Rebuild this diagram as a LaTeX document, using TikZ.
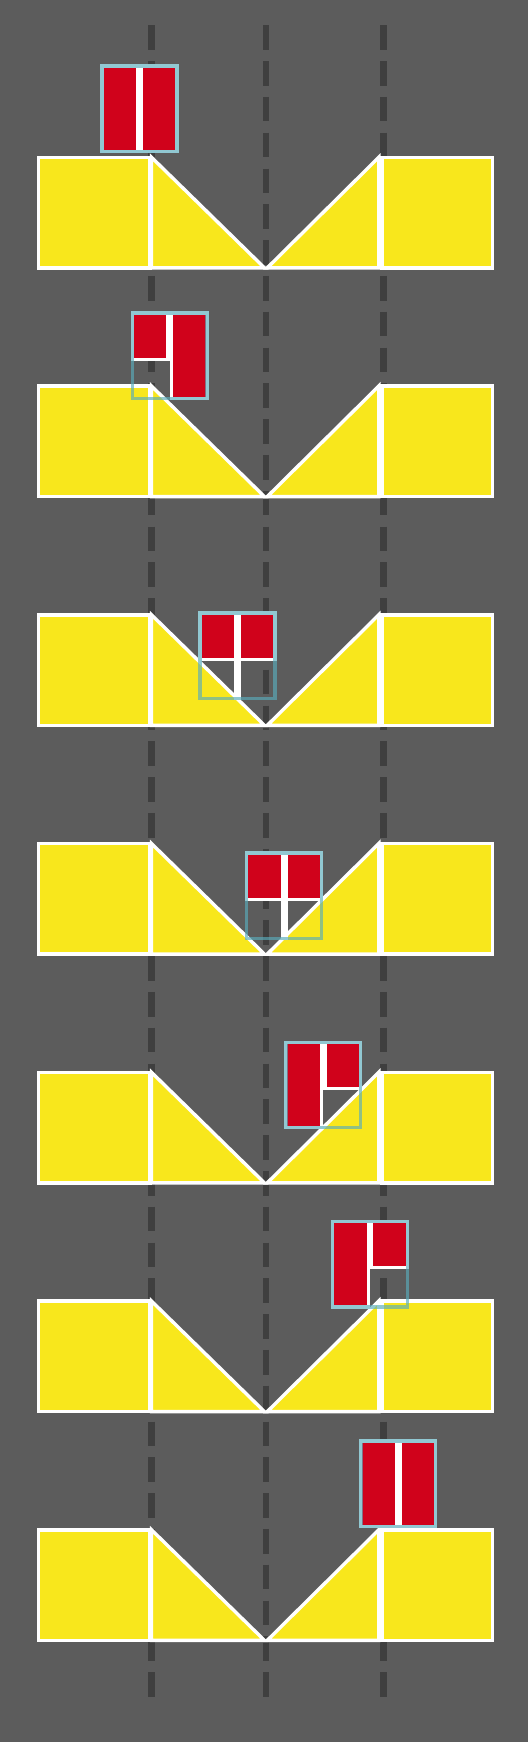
\documentclass[tikz,border=0pt]{standalone}
\usetikzlibrary{calc}
\definecolor{bggray}{RGB}{92,92,92}
\definecolor{dashgray}{RGB}{63,63,63}
\definecolor{rampyellow}{RGB}{248,231,28}
\definecolor{gatered}{RGB}{208,2,27}
\definecolor{gateteal}{RGB}{89,172,187}
\tikzset{
  laneline/.style={draw=dashgray, line width=6.8pt, dash pattern=on 24.6pt off 11.2pt},
  rampshape/.style={fill=rampyellow, draw=white, line width=3.4pt, line join=miter},
  gateframe/.style={draw=gateteal, draw opacity=0.66, line width=3.4pt},
}
% #1 left x, #2 right x, #3 top y, #4 height
\newcommand\gatecolumn[4]{%
  \fill[white] (#1,#3) rectangle (#2,#3+#4);
  \fill[gatered] (#1+3.3,#3+3.3) rectangle (#2-3.3,#3+#4-3.3);}
% #1 L, #2 top, #3 left height, #4 right height, #5 bar (1/0)
\newcommand\drawgate[5]{%
  \gatecolumn{#1}{#1+39.15}{#2}{#3}
  \gatecolumn{#1+39.15}{#1+78.3}{#2}{#4}
  \ifnum#5=1 \fill[white] (#1+39.15-3.3,#2) rectangle (#1+39.15+3.3,#2+88.8);\fi
  \draw[gateframe] (#1+1.7,#2+1.7) rectangle (#1+78.3-1.7,#2+88.8-1.7);}
\begin{document}
\begin{tikzpicture}[x=1pt,y=-1pt]
\fill[bggray] (0,0) rectangle (528,1742);
\useasboundingbox (0,0) rectangle (528,1742);
\coordinate (laneA) at (151.3,25.3);
\coordinate (laneAend) at (151.3,1697);
\coordinate (laneB) at (266,25.3);
\coordinate (laneBend) at (266,1697);
\coordinate (laneC) at (383.7,25.3);
\coordinate (laneCend) at (383.7,1697);
\draw[laneline] (laneA) -- (laneAend);
\draw[laneline] (laneB) -- (laneBend);
\draw[laneline] (laneC) -- (laneCend);
\foreach \k in {0,...,6}{
  \pgfmathsetmacro{\T}{157.3+228.75*\k}
  \pgfmathsetmacro{\B}{\T+110.6}
  \path[rampshape] (38.7,\T) rectangle (149.8,\B);
  \path[rampshape] (151.5,\T) -- (151.5,\B) -- (264.5,\B) -- cycle;
  \path[rampshape] (378.8,\T) -- (378.8,\B) -- (267.2,\B) -- cycle;
  \path[rampshape] (382.1,\T) rectangle (492.6,\B);
}
\drawgate{100.35}{64.4}{88.8}{88.8}{0}
\drawgate{130.55}{311.45}{49.5}{88.8}{0}
\drawgate{198.35}{611.45}{49.5}{49.5}{1}
\drawgate{245.05}{851.45}{49.5}{49.5}{1}
\drawgate{284.15}{1040.6}{88.8}{49.5}{0}
\drawgate{330.85}{1219.75}{88.8}{49.5}{0}
\drawgate{359.15}{1439.3}{88.8}{88.8}{0}
\end{tikzpicture}
\end{document}
